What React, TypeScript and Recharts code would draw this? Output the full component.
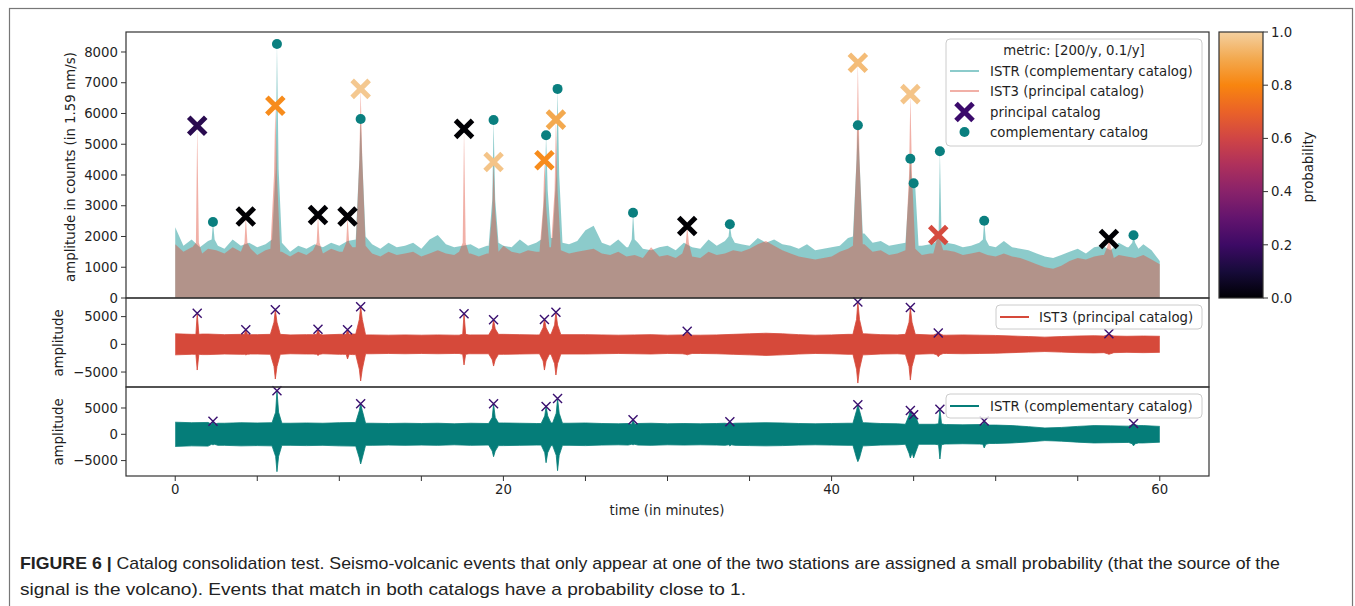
import React from "react"
import { ComposedChart, Area, Scatter, XAxis, YAxis } from "recharts"

const W = 1355
const H = 606
const FONT = "'DejaVu Sans', sans-serif"
const INK = "#1f1f1f"

// envelope samples of the amplitude panel, one every half minute from 0 to 60 min
const envTimes = Array.from({ length: 121 }, (_, i) => i * 0.5)

const istrNoise = [
  2300, 1700, 1900, 1650, 1850, 1700, 1600, 1900, 1700, 1800,
  1650, 1750, 1900, 1800, 1500, 1700, 1600, 1750, 1650, 1800,
  1700, 1850, 1900, 2000, 1750, 1600, 1800, 1650, 1700, 1800,
  1600, 1900, 2050, 1750, 1650, 1700, 1750, 1600, 1700, 1800,
  1700, 1650, 1900, 1700, 1800, 1900, 1950, 1800, 1750, 1850,
  2200, 2350, 1800, 1700, 1900, 1650, 1800, 1600, 1550, 1650,
  1700, 1550, 1800, 1650, 1600, 1900, 1700, 1850, 1800, 1750,
  1700, 1950, 1800, 1900, 1750, 1700, 1600, 1750, 1550, 1600,
  1650, 1700, 1950, 2000, 2100, 1800, 1850, 1700, 1750, 1800,
  1900, 1700, 1750, 1800, 1800, 1750, 1650, 1700, 1800, 1700,
  1650, 1850, 1650, 1600, 1550, 1450, 1350, 1300, 1400, 1500,
  1600, 1450, 1650, 1700, 1550, 1800, 1650, 1600, 1750, 1550,
  1200,
]

const ist3Noise = [
  1750, 1500, 1650, 1450, 1600, 1550, 1450, 1650, 1500, 1600,
  1400, 1550, 1600, 1500, 1350, 1500, 1400, 1550, 1450, 1600,
  1500, 1550, 1650, 1700, 1450, 1350, 1500, 1400, 1450, 1500,
  1350, 1450, 1550, 1450, 1400, 1500, 1450, 1350, 1450, 1500,
  1700, 1500, 1450, 1550, 1500, 1600, 1650, 1550, 1450, 1500,
  1550, 1600, 1450, 1400, 1500, 1350, 1400, 1300, 1650, 1350,
  1400, 1300, 1450, 1350, 1300, 1500, 1400, 1450, 1550, 1500,
  1600, 1750, 1850, 1700, 1550, 1450, 1350, 1300, 1250, 1300,
  1350, 1500, 1600, 1700, 1750, 1500, 1550, 1400, 1450, 1550,
  1600, 1400, 1450, 1500, 1550, 1500, 1400, 1450, 1500, 1400,
  1350, 1450, 1350, 1300, 1200, 1100, 1000, 950, 1050, 1200,
  1300, 1250, 1350, 1400, 1300, 1400, 1350, 1300, 1400, 1250,
  1100,
]

// half width of the raw waveforms, one value per minute
const waveTimes = Array.from({ length: 61 }, (_, i) => i)

const ist3Wave = [
  1900, 1800, 1850, 1750, 1800, 1750, 1800, 1700, 1750, 1700, 1800,
  1850, 1700, 1650, 1700, 1650, 1700, 1650, 1700, 1700, 1800,
  1750, 1700, 1800, 1750, 1750, 1700, 1650, 1700, 1750, 1650,
  1700, 1650, 1700, 1800, 1900, 2000, 1900, 1750, 1650, 1700,
  1800, 1900, 1750, 1700, 1800, 1700, 1650, 1700, 1650, 1600,
  1500, 1400, 1300, 1400, 1500, 1550, 1500, 1450, 1500, 1450,
]

const istrWave = [
  2300, 2200, 2250, 2100, 2200, 2150, 2200, 2100, 2150, 2100, 2200,
  2250, 2100, 2050, 2100, 2050, 2100, 2000, 2100, 2050, 2150,
  2100, 2050, 2150, 2100, 2150, 2050, 2000, 2050, 2100, 2000,
  2050, 2000, 2050, 2100, 2150, 2200, 2150, 2050, 2000, 2050,
  2100, 2200, 2050, 2000, 1900, 1900, 1850, 1800, 1850, 1750,
  1650, 1450, 1200, 1300, 1500, 1650, 1600, 1550, 1650, 1500,
]

// principal catalog (IST3) detections
const ist3Times = [1.34, 4.3, 6.1, 8.7, 10.5, 11.3, 17.6, 19.4, 22.5, 23.2, 31.2, 41.6, 44.8, 46.5, 56.9]
const ist3Peaks = [5600, 2650, 6250, 2700, 2650, 6800, 5500, 4420, 4480, 5800, 2340, 7650, 6630, 2050, 1920]
const ist3Shoulders = [1800, 1800, 4000, 1800, 1800, 4500, 1800, 2800, 3000, 3500, 1800, 4500, 4000, 1900, 1700]
const ist3Troughs = [4640, 1900, 6260, 2000, 2650, 6620, 3720, 3920, 4640, 5540, 1900, 6990, 6440, 2240, 1800]
const ist3Prob = [0.15, 0, 0.82, 0, 0, 0.98, 0, 0.97, 0.82, 0.9, 0, 0.95, 0.97, 0.62, 0]

// complementary catalog (ISTR) detections
const istrTimes = [2.3, 6.2, 11.3, 19.4, 22.6, 23.3, 27.9, 33.8, 41.6, 44.8, 45.0, 46.6, 49.3, 58.4]
const istrPeaks = [2470, 8260, 5820, 5790, 5290, 6800, 2770, 2400, 5620, 4530, 3730, 4770, 2510, 2040]
const istrShoulders = [1900, 4200, 4500, 3200, 3500, 4000, 1900, 2000, 4500, 3600, 3600, 2000, 1900, 1800]
const istrTroughs = [2000, 7110, 5650, 4260, 5400, 6920, 2000, 2200, 5200, 4500, 4500, 4700, 2600, 2200]

const countTicks = [0, 1000, 2000, 3000, 4000, 5000, 6000, 7000, 8000]
const waveTicks = [-5000, 0, 5000]
const timeTicks = [0, 5, 10, 15, 20, 25, 30, 35, 40, 45, 50, 55, 60]
const timeLabels = [0, 20, 40, 60]
const probTicks = [0, 0.2, 0.4, 0.6, 0.8, 1.0]

// colormap used for the probability of each principal detection
const cmapStops: [number, string][] = [
  [0, "#000004"], [0.1, "#170b3a"], [0.2, "#3d0a65"], [0.3, "#63146e"],
  [0.4, "#89226a"], [0.5, "#ae305c"], [0.6, "#d04545"], [0.7, "#ea6228"],
  [0.8, "#f8850f"], [0.9, "#f3a94f"], [1.0, "#f4d0a0"],
]

function hexToRgb(h: string) {
  return [1, 3, 5].map((i) => parseInt(h.slice(i, i + 2), 16))
}

function probColor(p: number) {
  for (let i = 1; i < cmapStops.length; i++) {
    const [p1, c1] = cmapStops[i]
    const [p0, c0] = cmapStops[i - 1]
    if (p <= p1) {
      const f = (p - p0) / (p1 - p0)
      const a = hexToRgb(c0)
      const b = hexToRgb(c1)
      const rgb = a.map((v, k) => Math.round(v + (b[k] - v) * f))
      return `rgb(${rgb.join(",")})`
    }
  }
  return cmapStops[cmapStops.length - 1][1]
}

const TEAL = "#008b8b"
const RED = "#e0503c"
const WAVE_RED = "#d6493a"
const WAVE_TEAL = "#057d79"
const DOT_TEAL = "#0a7f7f"
const MARK_PURPLE = "#3a1070"

type Pt = { t: number; hi: number; lo: number }

// background samples plus a narrow spike for every detection
function buildTrace(gridT: number[], grid: number[], times: number[], peaks: number[], shoulders: number[], troughs: number[]) {
  const step = gridT[1] - gridT[0]
  const near = (t: number) => grid[Math.min(grid.length - 1, Math.max(0, Math.round(t / step)))]
  const pts: Pt[] = []
  grid.forEach((v, i) => {
    const t = gridT[i]
    if (times.some((e) => Math.abs(e - t) < 0.3)) return
    pts.push({ t, hi: v, lo: -v })
  })
  times.forEach((t, i) => {
    for (const f of [t - 0.3, t + 0.3]) {
      const free = times.every((e, j) => j === i || Math.abs(e - f) >= 0.3)
      if (f >= 0 && f <= 60 && free) {
        const v = near(f)
        pts.push({ t: f, hi: v, lo: -v })
      }
    }
    const s = shoulders[i]
    pts.push({ t: t - 0.08, hi: s, lo: -s })
    pts.push({ t, hi: peaks[i], lo: -troughs[i] })
    pts.push({ t: t + 0.1, hi: s, lo: -s })
  })
  return pts.sort((a, b) => a.t - b.t)
}

const istrEnv = buildTrace(envTimes, istrNoise, istrTimes, istrPeaks, istrShoulders, istrTroughs)
const ist3Env = buildTrace(envTimes, ist3Noise, ist3Times, ist3Peaks, ist3Shoulders, ist3Troughs)
const istrTrace = buildTrace(waveTimes, istrWave, istrTimes, istrPeaks, istrShoulders, istrTroughs)
const ist3Trace = buildTrace(waveTimes, ist3Wave, ist3Times, ist3Peaks, ist3Shoulders, ist3Troughs)

const ist3Marks = ist3Times.map((t, i) => ({ t, amp: ist3Peaks[i], prob: ist3Prob[i] }))
const istrMarks = istrTimes.map((t, i) => ({ t, amp: istrPeaks[i] }))

const tickStyle = { fill: INK, fontSize: 13.3, fontFamily: FONT }
const fmtMinus = (v: number) => (v < 0 ? `\u2212${Math.abs(v)}` : `${v}`)
const bandKey = (d: Pt) => [d.lo, d.hi]

const BigCross = (p: any) => {
  const s = 8.5
  return (
    <path
      d={`M${p.cx - s},${p.cy - s}L${p.cx + s},${p.cy + s}M${p.cx - s},${p.cy + s}L${p.cx + s},${p.cy - s}`}
      stroke={probColor(p.payload.prob)}
      strokeWidth={5}
    />
  )
}

const SmallCross = (p: any) => {
  const s = 4.5
  return (
    <path
      d={`M${p.cx - s},${p.cy - s}L${p.cx + s},${p.cy + s}M${p.cx - s},${p.cy + s}L${p.cx + s},${p.cy - s}`}
      stroke={MARK_PURPLE}
      strokeWidth={1.4}
    />
  )
}

const Dot = (p: any) => <circle cx={p.cx} cy={p.cy} r={5} fill={DOT_TEAL} />

const layer: React.CSSProperties = { position: "absolute", left: 0, top: 0 }

const xAxisHidden = <XAxis type="number" dataKey="t" domain={[-3, 63]} hide />

export default function App() {
  return (
    <div style={{ position: "absolute", left: 0, top: 0, width: W, height: H, background: "#fff", overflow: "hidden" }}>
      {/* envelopes of both stations with the two catalogs */}
      <div style={layer}>
        <ComposedChart width={W} height={H} margin={{ top: 32, right: 146, bottom: 308, left: 0 }}>
          {xAxisHidden}
          <YAxis type="number" domain={[0, 8650]} ticks={countTicks} interval={0} width={126}
            tick={tickStyle} tickSize={5} tickMargin={3} tickLine={{ stroke: "#333" }} axisLine={false} />
          <Area data={istrEnv} dataKey="hi" type="linear" fill={TEAL} fillOpacity={0.45} stroke="none" isAnimationActive={false} />
          <Area data={ist3Env} dataKey="hi" type="linear" fill={RED} fillOpacity={0.45} stroke="none" isAnimationActive={false} />
          <Scatter data={istrMarks} dataKey="amp" shape={Dot} isAnimationActive={false} />
          <Scatter data={ist3Marks} dataKey="amp" shape={BigCross} isAnimationActive={false} />
        </ComposedChart>
      </div>

      {/* IST3 waveform */}
      <div style={layer}>
        <ComposedChart width={W} height={H} margin={{ top: 298, right: 146, bottom: 219, left: 0 }}>
          {xAxisHidden}
          <YAxis type="number" domain={[-7700, 8360]} ticks={waveTicks} interval={0} width={126}
            tick={tickStyle} tickSize={5} tickMargin={3} tickLine={{ stroke: "#333" }} axisLine={false}
            tickFormatter={fmtMinus} />
          <Area data={ist3Trace} dataKey={bandKey} type="linear" fill={WAVE_RED} fillOpacity={1} stroke={WAVE_RED} strokeWidth={0.8} isAnimationActive={false} />
          <Scatter data={ist3Marks} dataKey="amp" shape={SmallCross} isAnimationActive={false} />
        </ComposedChart>
      </div>

      {/* ISTR waveform */}
      <div style={layer}>
        <ComposedChart width={W} height={H} margin={{ top: 387, right: 146, bottom: 100, left: 0 }}>
          <XAxis type="number" dataKey="t" domain={[-3, 63]} ticks={timeTicks} interval={0} height={30}
            tick={tickStyle} tickSize={5} tickMargin={4} tickLine={{ stroke: "#333" }} axisLine={false}
            tickFormatter={(v: number) => (timeLabels.includes(v) ? `${v}` : "")} />
          <YAxis type="number" domain={[-7930, 8990]} ticks={waveTicks} interval={0} width={126}
            tick={tickStyle} tickSize={5} tickMargin={3} tickLine={{ stroke: "#333" }} axisLine={false}
            tickFormatter={fmtMinus} />
          <Area data={istrTrace} dataKey={bandKey} type="linear" fill={WAVE_TEAL} fillOpacity={1} stroke={WAVE_TEAL} strokeWidth={0.8} isAnimationActive={false} />
          <Scatter data={istrMarks} dataKey="amp" shape={SmallCross} isAnimationActive={false} />
        </ComposedChart>
      </div>

      {/* probability colour bar */}
      <div style={layer}>
        <ComposedChart width={W} height={H} data={[{ x: 0, y: 1 }, { x: 1, y: 1 }]}
          margin={{ top: 32, right: 42, bottom: 308, left: 1219 }}>
          <defs>
            <linearGradient id="cmap" x1="0" y1="1" x2="0" y2="0">
              {cmapStops.map(([p, c]) => (
                <stop key={p} offset={`${p * 100}%`} stopColor={c} />
              ))}
            </linearGradient>
          </defs>
          <XAxis type="number" dataKey="x" domain={[0, 1]} hide />
          <YAxis orientation="right" type="number" domain={[0, 1]} ticks={probTicks} interval={0} width={50}
            tick={tickStyle} tickSize={5} tickMargin={3} tickLine={{ stroke: "#333" }} axisLine={false}
            tickFormatter={(v: number) => v.toFixed(1)} />
          <Area dataKey="y" type="linear" fill="url(#cmap)" fillOpacity={1} stroke="none" isAnimationActive={false} />
        </ComposedChart>
      </div>

      {/* frames, legends, titles and caption */}
      <svg width={W} height={H} style={{ ...layer, pointerEvents: "none" }} fontFamily={FONT} fill={INK}>
        <rect x={9.5} y={8.5} width={1343} height={640} fill="none" stroke="#777" strokeWidth={1.2} />

        <g fill="none" stroke="#333" strokeWidth={1.2}>
          <rect x={126} y={32} width={1083} height={266} />
          <rect x={126} y={298} width={1083} height={89} />
          <rect x={126} y={387} width={1083} height={89} />
          <rect x={1219} y={32} width={44} height={266} />
        </g>

        <g fontSize={13.3} dominantBaseline="central">
          <text transform="translate(70,167) rotate(-90)" textAnchor="middle">amplitude in counts (in 1.59 nm/s)</text>
          <text transform="translate(58,343) rotate(-90)" textAnchor="middle">amplitude</text>
          <text transform="translate(58,432) rotate(-90)" textAnchor="middle">amplitude</text>
          <text x={667} y={510} textAnchor="middle">time (in minutes)</text>
          <text transform="translate(1308,167) rotate(-90)" textAnchor="middle">probability</text>
        </g>

        {/* main legend */}
        <rect x={946} y={39} width={256} height={107} rx={4} fill="#fff" fillOpacity={0.8} stroke="#ccc" />
        <g fontSize={13.3} dominantBaseline="central">
          <text x={1074} y={50} textAnchor="middle">metric: [200/y, 0.1/y]</text>
          <line x1={950} x2={979} y1={71} y2={71} stroke={TEAL} strokeOpacity={0.45} strokeWidth={2} />
          <text x={990} y={71}>ISTR (complementary catalog)</text>
          <line x1={950} x2={979} y1={91} y2={91} stroke={RED} strokeOpacity={0.45} strokeWidth={2} />
          <text x={990} y={91}>IST3 (principal catalog)</text>
          <path d="M956,103.5L973,120.5M956,120.5L973,103.5" stroke="#3b0b6c" strokeWidth={5} />
          <text x={990} y={112}>principal catalog</text>
          <circle cx={964.5} cy={132} r={5} fill={DOT_TEAL} />
          <text x={990} y={132}>complementary catalog</text>
        </g>

        <rect x={996} y={305} width={206} height={24} rx={4} fill="#fff" fillOpacity={0.8} stroke="#ccc" />
        <line x1={1000} x2={1029} y1={317} y2={317} stroke={WAVE_RED} strokeWidth={2} />
        <text x={1039} y={317} fontSize={13.3} dominantBaseline="central">IST3 (principal catalog)</text>

        <rect x={946} y={394} width={256} height={24} rx={4} fill="#fff" fillOpacity={0.8} stroke="#ccc" />
        <line x1={950} x2={979} y1={406} y2={406} stroke={WAVE_TEAL} strokeWidth={2} />
        <text x={990} y={406} fontSize={13.3} dominantBaseline="central">ISTR (complementary catalog)</text>

        <g fontFamily="'Liberation Sans Narrow', 'Liberation Sans', Arial, sans-serif" fontSize={17} fill="#222">
          <text x={20} y={569} textLength={1260} lengthAdjust="spacingAndGlyphs">
            <tspan fontWeight="bold">FIGURE 6 | </tspan>
            Catalog consolidation test. Seismo-volcanic events that only appear at one of the two stations are assigned a small probability (that the source of the
          </text>
          <text x={20} y={595} textLength={726} lengthAdjust="spacingAndGlyphs">
            signal is the volcano). Events that match in both catalogs have a probability close to 1.
          </text>
        </g>
      </svg>
    </div>
  )
}
